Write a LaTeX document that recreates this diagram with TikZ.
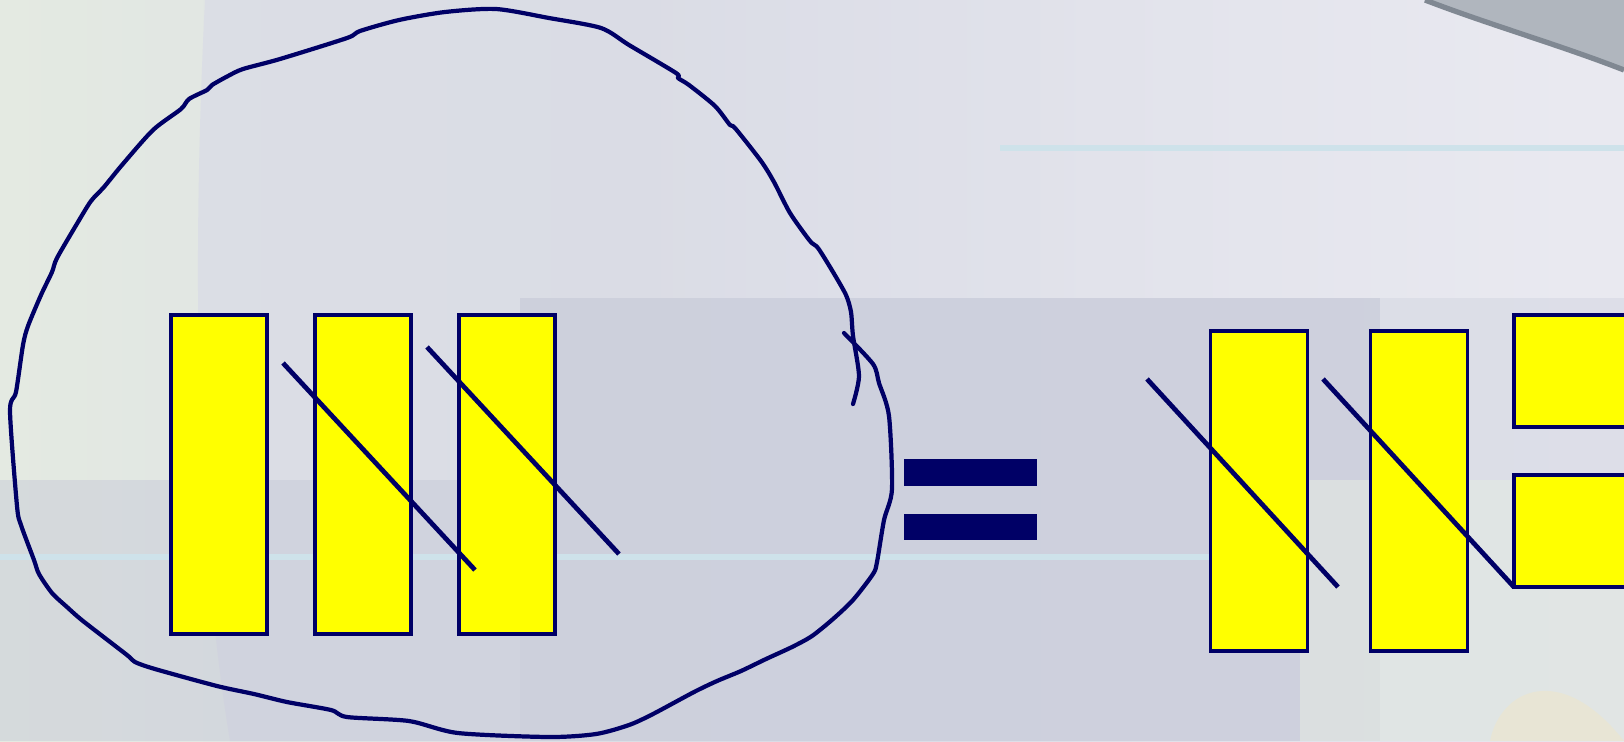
\documentclass[tikz,border=0pt]{standalone}
\usetikzlibrary{positioning, fadings}

\definecolor{ink}{RGB}{0,0,102}
\definecolor{plateyellow}{RGB}{255,255,0}
\definecolor{bgleft}{RGB}{228,234,226}
\definecolor{bgmid}{RGB}{218,220,230}
\definecolor{bgright}{RGB}{234,234,241}
\definecolor{bgband}{RGB}{196,199,214}
\definecolor{bgstreak}{RGB}{206,226,234}
\definecolor{swoosh}{RGB}{176,182,190}
\definecolor{swooshdark}{RGB}{128,136,146}
\definecolor{bgsand}{RGB}{234,230,210}

\begin{document}
\begin{tikzpicture}[x=0.01cm, y=-0.01cm,
  plate/.style={rectangle, draw=ink, fill=plateyellow, line width=1.05pt, inner sep=0pt, outer sep=0pt, minimum width=0.96cm, minimum height=3.19cm},
  tile/.style={plate, minimum width=1.9cm, minimum height=1.12cm, anchor=north west},
  eqbar/.style={rectangle, fill=ink, inner sep=0pt, outer sep=0pt, minimum width=1.33cm, minimum height=0.27cm},
  slash/.style={draw=ink, line width=1.35pt},
  scribble/.style={draw=ink, line width=1.2pt, line join=round, line cap=round}]
\clip (0,0) rectangle (1624,741);
\shade[left color=bgleft, right color=bgright, middle color=bgmid] (0,0) rectangle (1624,741);
\fill[bgmid, opacity=0.8] (205,0) -- (1624,0) -- (1624,741) -- (230,741) .. controls (190,500) and (195,200) .. cycle;
\fill[bgband, opacity=0.45] (0,480) rectangle (520,741);
\fill[bgband, opacity=0.55] (520,298) rectangle (1380,741);
\fill[bgleft, opacity=0.6] (1300,480) rectangle (1624,741);
\fill[bgsand, opacity=0.8] (1624,741) .. controls (1560,660) and (1500,690) .. (1490,741) -- cycle;
\fill[bgright, path fading=west] (600,0) rectangle (1624,298);
\draw[bgstreak, line width=1.5pt] (1000,148) -- (1624,148);
\draw[bgstreak, line width=1.5pt] (0,557) -- (1300,557);
\fill[swoosh] (1425,0) .. controls (1490,25) and (1560,45) .. (1624,70) -- (1624,0) -- cycle;
\draw[swooshdark, line width=1.5pt] (1425,0) .. controls (1490,25) and (1560,45) .. (1624,70);

\draw[scribble] plot[smooth, tension=0.45] coordinates {(853,404) (859,376) (853,336) (851,312) (846,295) (833,272) (818,248) (810,241) (790,213) (774,182) (761,161) (735,128) (730,125) (715,106) (689,85) (678,78) (676,73) (629,45) (601,28) (549,18) (496,9) (445,12) (399,20) (360,31) (347,38) (280,59) (243,69) (228,76) (212,85) (207,90) (189,99) (181,109) (153,130) (122,165) (104,187) (91,201) (78,222) (57,258) (52,272) (41,295) (28,326) (23,345) (16,392) (10,411) (17,506) (21,525) (34,560) (39,574) (52,593) (67,607) (83,621) (127,655) (135,662) (155,669) (217,686) (254,694) (287,702) (331,710) (347,717) (409,721) (458,733) (549,737) (596,734) (629,725) (653,714) (694,692) (717,681) (741,671) (766,659) (792,647) (812,636) (833,619) (853,600) (873,574) (877,562) (884,520) (892,489) (889,416) (879,383) (873,364) (844,333)};

\node[plate] (l1) at (219,474.5) {};
\node[plate, right=0.48cm of l1] (l2) {};
\node[plate, right=0.48cm of l2] (l3) {};
\coordinate (s1a) at (283,363);
\coordinate (s1b) at (475,570);
\coordinate (s2a) at (427,347);
\coordinate (s2b) at (619,554);
\draw[slash] (s1a) -- (s1b);
\draw[slash] (s2a) -- (s2b);

\node[eqbar] (eqtop) at (970.5,472) {};
\node[eqbar, minimum height=0.26cm] (eqbot) at (970.5,527) {};

\node[plate, minimum width=0.97cm, minimum height=3.2cm] (r1) at (1259,491) {};
\node[plate, minimum width=0.97cm, minimum height=3.2cm, right=0.63cm of r1] (r2) {};
\node[tile] (r3) at (1514,315) {};
\node[tile] (r4) at (1514,475) {};
\coordinate (s3a) at (1147,379);
\coordinate (s3b) at (1338,587);
\coordinate (s4a) at (1323,379);
\draw[slash] (s3a) -- (s3b);
\draw[slash] (s4a) -- (r4.south west);
\end{tikzpicture}
\end{document}
